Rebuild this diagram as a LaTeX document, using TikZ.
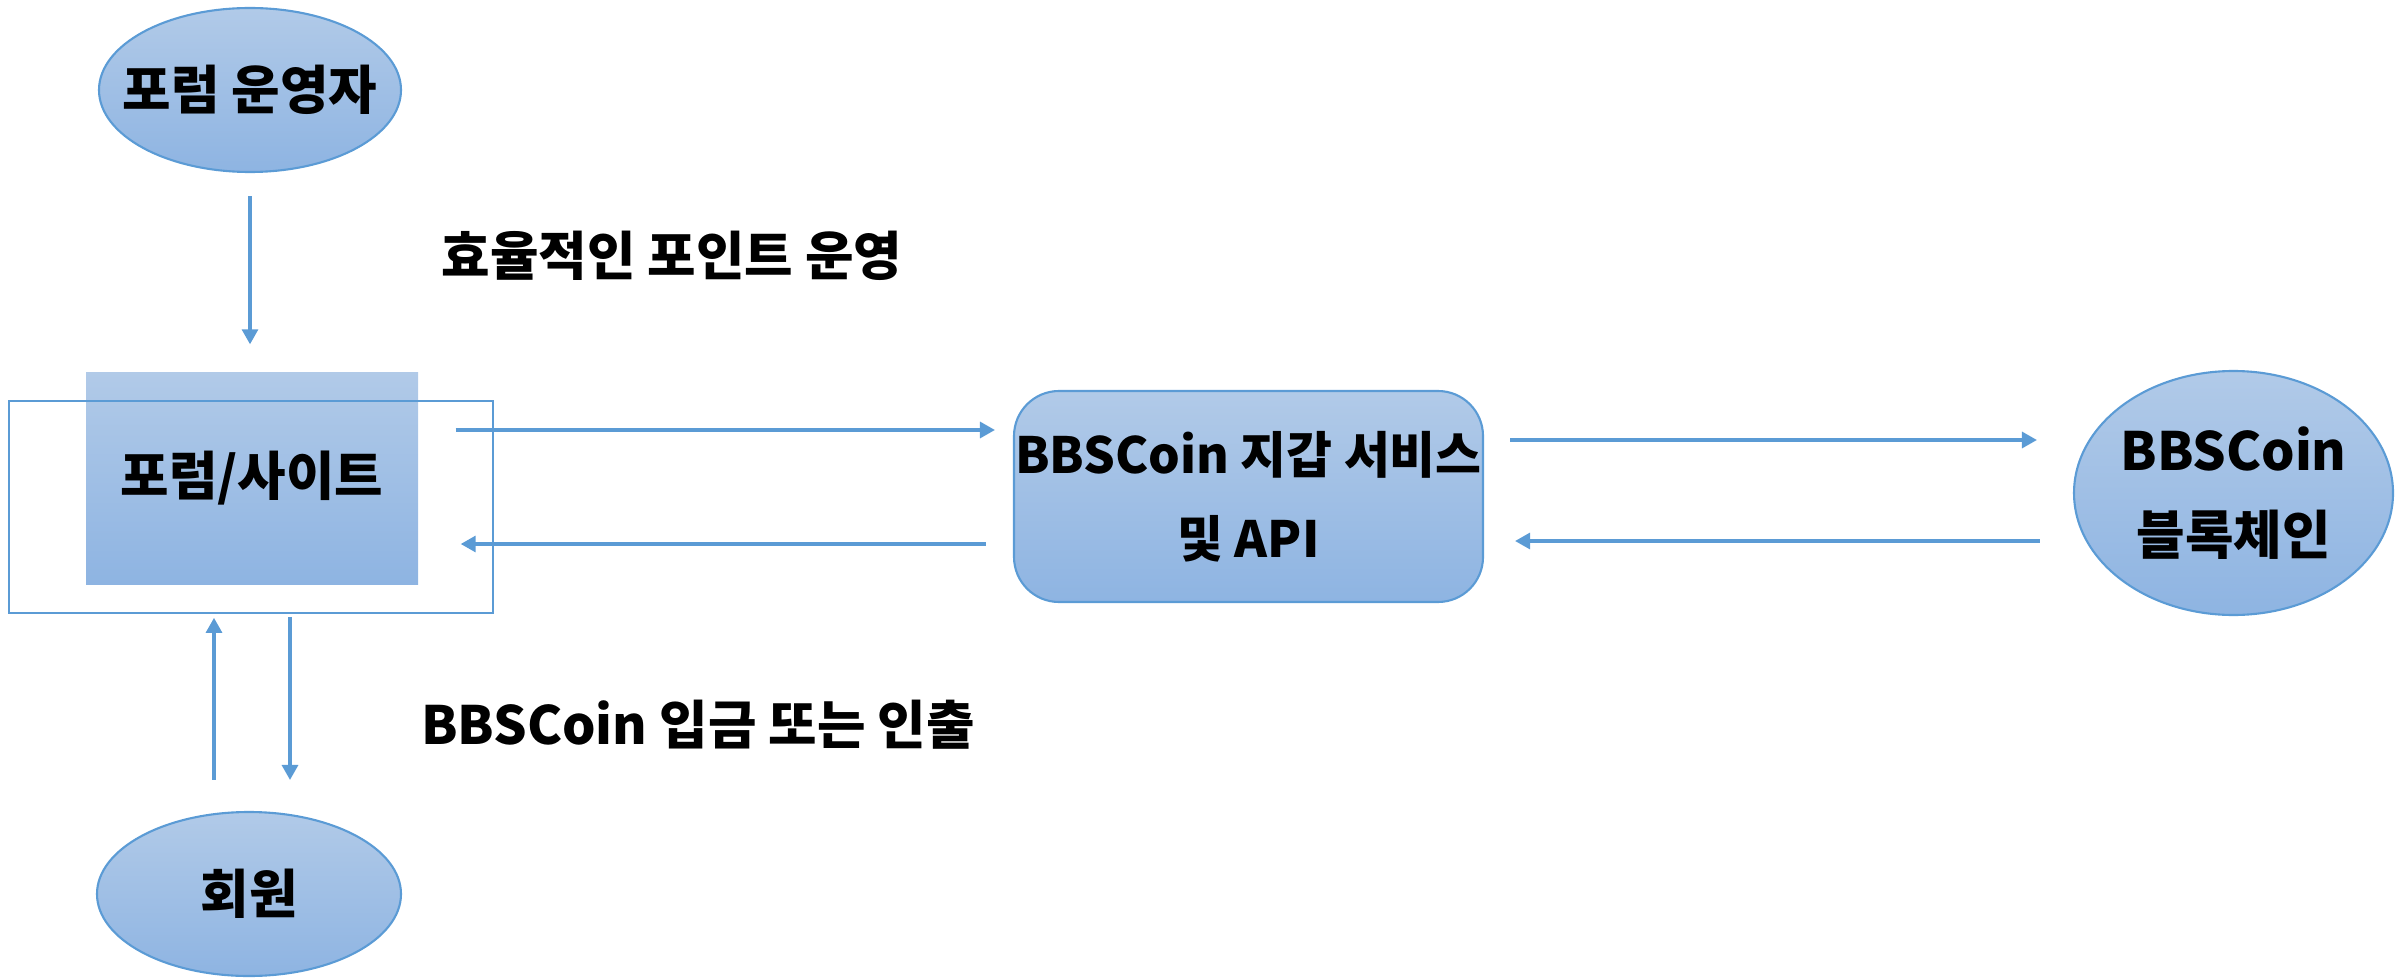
\documentclass[tikz,border=0pt]{standalone}
\usepackage{fontspec}
\setmainfont{Noto Sans CJK KR}
\usepackage{tikz}
\usetikzlibrary{shapes.geometric,arrows.meta}
\definecolor{lineblue}{HTML}{5B9BD5}
\definecolor{filltop}{HTML}{B1CAE8}
\definecolor{fillbot}{HTML}{8EB4E2}

\begin{document}
\begin{tikzpicture}
              \tikzstyle{every node}+=[inner sep=0pt, font=\bfseries\fontsize{15}{24}\selectfont]
              \tikzstyle{blob}=[ellipse, draw=lineblue, line width=0.6pt, top color=filltop, bottom color=fillbot, inner xsep=-0.6cm]
              \tikzstyle{arr}=[draw=lineblue, line width=0.9pt, -{Triangle[length=0.15cm, width=0.16cm]}]
              \useasboundingbox (0,0) rectangle (24.02,-9.79);
              % nodes
              \node [blob, minimum width=3.02cm, minimum height=1.64cm] (op) at (2.50,-0.90) {포럼 운영자};
              \node [rectangle, top color=filltop, bottom color=fillbot, minimum width=3.32cm, minimum height=2.12cm] (site) at (2.52,-4.78) {포럼/사이트};
              \node [rectangle, draw=lineblue, line width=0.5pt, minimum width=4.84cm, minimum height=2.12cm] (frame) at (2.51,-5.07) {};
              \node [rectangle, rounded corners=0.45cm, draw=lineblue, line width=0.6pt, top color=filltop, bottom color=fillbot, minimum width=4.69cm, minimum height=2.11cm, align=center, font=\bfseries\fontsize{14.2}{24}\selectfont] (wallet) at (12.485,-4.965) {BBSCoin 지갑 서비스\\및 API};
              \node [blob, minimum width=3.19cm, minimum height=2.44cm, align=center] (chain) at (22.335,-4.93) {BBSCoin\\블록체인};
              \node [blob, minimum width=3.04cm, minimum height=1.64cm] (member) at (2.49,-8.94) {회원};
              \node (eff) at (6.72,-2.56) {효율적인 포인트 운영};
              \node (dep) at (6.98,-7.25) {BBSCoin 입금 또는 인출};
              % arrows
              \draw [arr, shorten <=0.23cm, shorten >=0.27cm] (op.south) -- (op.south |- site.north);
              \coordinate (s1) at ([yshift=0.48cm]site.east);
              \draw [arr, shorten <=0.37cm, shorten >=0.18cm] (s1) -- (s1 -| wallet.west);
              \coordinate (s2) at ([yshift=-0.66cm]site.east);
              \draw [arr, shorten <=0.27cm, shorten >=0.42cm] (s2 -| wallet.west) -- (s2);
              \coordinate (w1) at ([yshift=0.565cm]wallet.east);
              \draw [arr, shorten <=0.26cm, shorten >=0.36cm] (w1) -- (w1 -| chain.west);
              \coordinate (w2) at ([yshift=-0.445cm]wallet.east);
              \draw [arr, shorten <=0.33cm, shorten >=0.31cm] (w2 -| chain.west) -- (w2);
              \coordinate (m1) at ([xshift=-0.35cm]member.north);
              \draw [arr, shorten <=0.31cm, shorten >=0.04cm] (m1) -- (m1 |- frame.south);
              \coordinate (m2) at ([xshift=0.41cm]member.north);
              \draw [arr, shorten <=0.03cm, shorten >=0.31cm] (m2 |- frame.south) -- (m2);
            \end{tikzpicture}
\end{document}
